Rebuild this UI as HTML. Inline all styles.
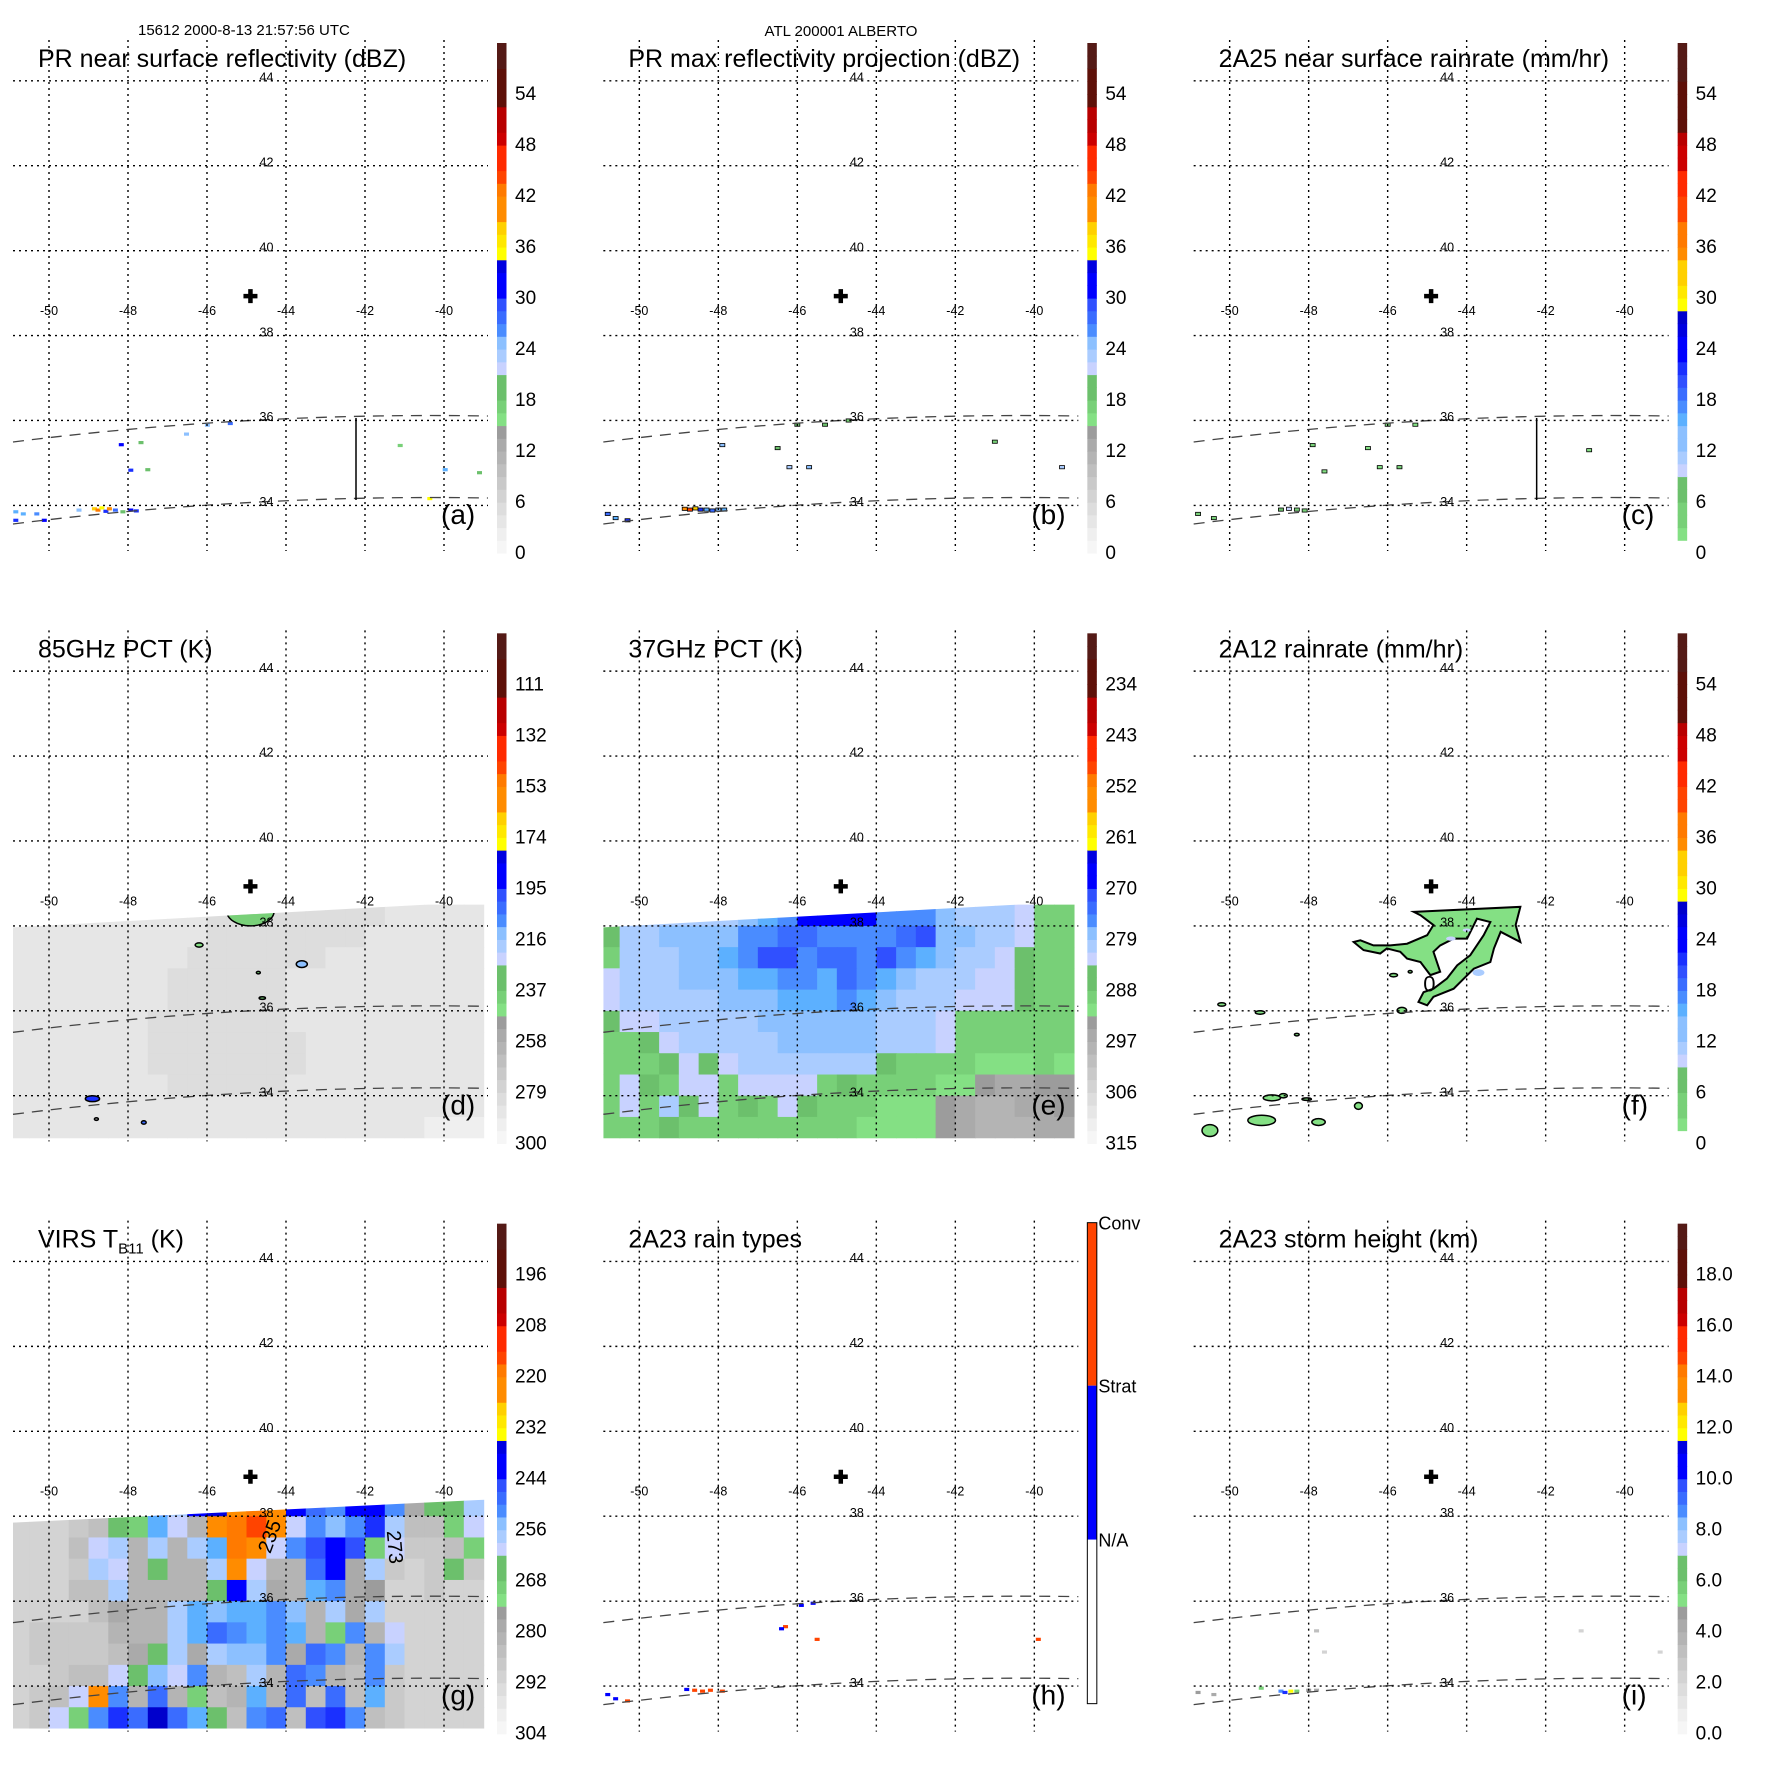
<!DOCTYPE html>
<html><head><meta charset="utf-8"><title>TRMM ALBERTO</title>
<style>html,body{margin:0;padding:0;background:#fff}svg{display:block}text{font-family:"Liberation Sans",Arial,sans-serif;fill:#000}</style>
</head><body>
<svg id="fig" xmlns="http://www.w3.org/2000/svg" width="1771" height="1771" viewBox="0 0 1771 1771">
<rect x="0" y="0" width="1771" height="1771" fill="#fff"/>
<text x="138" y="35" font-size="15">15612 2000-8-13 21:57:56 UTC</text>
<text x="841" y="36" font-size="15" text-anchor="middle">ATL 200001 ALBERTO</text>
</svg>
<script>
// ---------- data ----------
const gridLons = [-50.75,-50.25,-49.75,-49.25,-48.75,-48.25,-47.75,-47.25,-46.75,-46.25,-45.75,-45.25,-44.75,-44.25,-43.75,-43.25,-42.75,-42.25,-41.75,-41.25,-40.75,-40.25,-39.75,-39.25];
const gridLats = [38.25,37.75,37.25,36.75,36.25,35.75,35.25,34.75,34.25,33.75,33.25];
const gridLonTicks = [-50,-48,-46,-44,-42,-40];
const gridLatTicks = [44,42,40,38,36,34];

const labelsA = [0,6,12,18,24,30,36,42,48,54];
const labelsRain = [0,6,12,18,24,30,36,42,48,54];
const labelsD = [300,279,258,237,216,195,174,153,132,111];
const labelsE = [315,306,297,288,279,270,261,252,243,234];
const labelsG = [304,292,280,268,256,244,232,220,208,196];
const labelsI = ["0.0","2.0","4.0","6.0","8.0","10.0","12.0","14.0","16.0","18.0"];
const labelsH = ["N/A","Strat","Conv"];

const field37 = [
[282,282,282,280,280,280,280,279,276,275,268,267,267,269,274,275,274,279,280,280,282,283,287,288],
[285,282,280,279,279,278,278,275,274,273,273,274,275,274,274,273,272,278,279,280,282,283,288,288],
[288,282,281,280,279,278,277,274,272,271,274,273,273,275,271,274,276,279,280,281,283,286,288,288],
[283,281,280,280,279,278,278,277,276,275,275,276,273,275,277,279,280,281,282,283,284,286,288,288],
[283,282,281,280,280,280,279,279,278,277,276,276,275,277,279,280,281,282,283,284,283,286,288,288],
[285,284,283,282,281,281,280,280,279,279,279,278,278,279,280,281,282,283,287,288,288,288,288,288],
[288,288,285,283,282,281,281,281,280,279,278,278,278,279,280,281,282,284,288,288,288,288,288,289],
[288,289,288,285,283,286,283,282,282,281,280,280,281,282,285,287,288,289,289,290,291,290,289,290],
[288,284,286,288,283,283,287,283,283,283,284,288,286,288,288,289,289,290,290,293,296,296,294,292],
[287,283,288,281,286,283,287,286,288,284,286,288,289,289,290,290,290,292,297,298,298,297,296,293],
[288,287,288,286,288,287,288,288,288,287,288,289,289,290,290,290,291,292,297,298,298,298,297,297]];

const field85 = [
[288,288,288,288,287,287,286,286,285,285,284,283,282,283,283,283,282,282,284,286,287,288,288,288],
[288,288,287,287,286,286,286,285,285,285,284,283,281,281,282,283,283,284,285,286,287,288,288,288],
[288,288,287,286,286,286,285,285,285,284,284,282,281,282,284,284,285,285,286,286,287,288,288,289],
[288,287,287,286,286,285,285,285,284,284,283,281,282,284,285,285,285,286,286,287,287,288,288,289],
[288,287,287,286,286,285,285,285,284,283,282,282,283,284,285,285,286,286,287,287,288,288,289,289],
[288,288,287,286,285,285,285,284,284,283,283,283,283,284,285,285,286,286,287,287,288,288,289,289],
[289,288,287,286,285,285,285,284,283,283,282,282,283,283,284,285,286,286,287,288,288,289,289,289],
[289,288,287,286,285,285,285,284,283,283,282,282,283,283,284,285,286,287,287,288,288,289,289,289],
[289,288,287,286,285,285,286,285,284,284,283,283,284,284,285,286,286,287,288,288,289,289,289,289],
[288,287,286,285,285,285,286,286,285,285,285,285,285,286,286,287,287,288,288,289,289,289,289,289],
[288,287,286,286,285,286,286,287,287,286,286,286,287,287,287,288,288,288,289,289,289,290,290,290]];

const fieldVirs = [
[290,290,290,290,290,288,262,250,258,241,238,224,218,222,242,248,250,243,243,250,278,266,266,260],
[290,290,290,289,284,264,268,252,262,281,222,218,216,222,262,250,256,250,244,258,284,284,270,262],
[290,290,290,284,262,258,282,260,282,258,252,218,222,262,250,246,242,246,270,262,287,288,286,270],
[290,290,290,288,258,262,283,266,283,282,258,224,262,282,282,248,240,278,260,288,290,288,266,288],
[290,290,290,286,285,260,283,283,282,283,266,240,258,280,282,252,250,280,274,290,290,288,290,290],
[290,290,290,290,284,280,282,282,258,254,256,252,254,250,256,282,258,280,258,290,290,290,290,291],
[290,289,288,288,288,282,282,282,260,252,248,250,254,250,252,282,270,250,282,262,290,290,290,290],
[290,288,288,288,288,286,280,266,258,280,258,256,256,250,280,248,250,282,250,258,290,290,290,290],
[290,290,288,286,284,262,266,256,262,250,282,284,258,282,248,250,282,284,250,288,290,290,290,290],
[290,288,286,262,225,250,283,248,282,268,284,282,252,282,248,284,248,284,252,288,290,290,290,290],
[290,288,262,270,250,244,248,234,248,252,266,284,250,248,286,246,244,250,284,288,290,290,290,290]];

// specks: [lon, lat, value]
const specksA = [[-48.85,33.92,38],[-48.76,33.89,42],[-48.66,33.94,36],[-48.56,33.86,30],[-48.47,33.92,40],[-48.32,33.89,28],[-48.13,33.85,20],[-47.93,33.89,31],[-47.79,33.87,30],[-50.84,33.85,26],[-50.65,33.80,25],[-50.31,33.80,27],[-50.12,33.65,31],[-50.84,33.65,30],[-49.24,33.89,24],[-48.17,35.43,31],[-47.93,34.83,30],[-47.50,34.84,20],[-47.67,35.48,19],[-46.52,35.68,24],[-45.99,35.89,24],[-45.41,35.93,28],[-41.11,35.41,18],[-39.10,34.77,19],[-39.97,34.84,25],[-40.36,34.16,36]];
const specksB = [[-48.85,33.92,40],[-48.72,33.9,44],[-48.58,33.93,38],[-48.45,33.9,30],[-48.3,33.9,26],[-48.15,33.88,28],[-48.0,33.9,24],[-47.85,33.9,26],[-50.8,33.8,28],[-50.6,33.7,25],[-50.3,33.65,30],[-47.9,35.42,24],[-46.5,35.35,20],[-46.2,34.9,22],[-45.7,34.9,24],[-45.3,35.9,20],[-44.7,36.0,18],[-46.0,35.9,20],[-39.3,34.9,22],[-41.0,35.5,18]];
const specksC = [[-48.7,33.9,8],[-48.5,33.92,10],[-48.3,33.9,6],[-48.1,33.88,4],[-50.8,33.8,5],[-50.4,33.7,4],[-47.9,35.42,4],[-46.5,35.35,3],[-46.2,34.9,3],[-45.7,34.9,4],[-45.3,35.9,3],[-46.0,35.9,3],[-40.9,35.3,3],[-47.6,34.8,3]];
const specksH = [[-48.6,33.9,2],[-48.4,33.88,2],[-48.2,33.9,2],[-47.9,33.88,2],[-48.8,33.92,1],[-50.8,33.8,1],[-50.6,33.7,1],[-50.3,33.65,2],[-46.3,35.4,2],[-46.4,35.35,1],[-45.5,35.1,2],[-45.6,35.95,1],[-45.9,35.9,1],[-39.9,35.1,2]];
const specksI = [[-48.7,33.88,9],[-48.6,33.85,10],[-48.45,33.88,12],[-48.3,33.88,6],[-48.0,33.9,5],[-50.8,33.85,5],[-50.4,33.8,4],[-47.8,33.9,4],[-47.8,35.3,3],[-47.6,34.8,2],[-41.1,35.3,2],[-39.1,34.8,2],[-49.2,33.95,6]];

// blobs: [lon, lat, value, rxDeg, ryDeg]
const blobsD = [[-44.9,38.35,235,0.6,0.35],[-44.9,38.42,215,0.25,0.1],[-46.2,37.55,245,0.1,0.05],[-43.6,37.1,215,0.14,0.08],[-44.7,36.9,240,0.05,0.03],[-44.6,36.3,240,0.08,0.03],[-48.9,33.93,195,0.18,0.07],[-48.8,33.45,250,0.05,0.03],[-47.6,33.37,200,0.06,0.04]];
const blobsF = [[-50.2,36.15,3,0.1,0.04],[-49.23,35.96,3,0.12,0.04],[-48.3,35.44,3,0.06,0.03],[-45.64,36.01,3,0.12,0.07],[-45.85,36.84,3,0.1,0.04],[-45.43,36.92,3,0.05,0.03],[-48.93,33.95,3,0.22,0.07],[-48.64,34.0,3,0.1,0.05],[-48.05,33.92,3,0.12,0.03],[-46.74,33.76,3,0.1,0.08],[-49.19,33.42,3,0.35,0.12],[-47.75,33.38,3,0.17,0.08],[-50.5,33.18,3,0.2,0.14]];
const shapeF = [[-45.34,38.33],[-42.64,38.45],[-42.76,38.02],[-42.64,37.62],[-43.14,37.86],[-43.31,37.47],[-43.40,37.15],[-43.82,36.99],[-44.07,36.76],[-44.33,36.52],[-44.84,36.33],[-45.00,36.13],[-45.22,36.21],[-45.09,36.44],[-44.84,36.52],[-44.50,36.76],[-44.24,37.07],[-43.91,37.31],[-43.57,37.78],[-43.40,38.09],[-43.74,38.17],[-43.99,37.70],[-44.33,37.70],[-44.67,37.54],[-44.84,37.39],[-44.67,36.92],[-44.92,36.84],[-45.17,37.15],[-45.51,37.23],[-45.68,37.39],[-46.02,37.47],[-46.19,37.35],[-46.61,37.43],[-46.86,37.62],[-46.69,37.66],[-46.36,37.54],[-45.93,37.54],[-45.51,37.58],[-45.00,37.78],[-44.84,38.02],[-45.17,38.25]];
const spotsF = [[-44.4,37.7,10,0.12,0.05],[-43.7,36.9,11,0.15,0.08],[-44.0,37.9,9,0.1,0.04]];
const stormCenter = [-44.9,38.93];

// ---------- helpers ----------
const NS='http://www.w3.org/2000/svg';
const svg=document.getElementById('fig');
const P=590.33;
function lonX(l){return 49+39.5*(l+50);}
function latY(a){return 80.8+(44-a)*42.46;}
function idxY(i){return 553-8.5*i;}
function mk(tag,attrs,parent){const e=document.createElementNS(NS,tag);for(const k in attrs)e.setAttribute(k,attrs[k]);parent.appendChild(e);return e;}
const stopsA=[[0,'#f6f6f6'],[1.5,'#efefef'],[3,'#e6e6e6'],[4.5,'#dddddd'],[6,'#d3d3d3'],[7.5,'#c9c9c9'],[9,'#bfbfbf'],[10.5,'#b4b4b4'],[12,'#aaaaaa'],[13.5,'#9c9c9c'],[15.4,'#84e084'],[17,'#78d078'],[18.7,'#6cc06c'],[20.4,'#c8d2ff'],[21.9,'#aaccff'],[23.4,'#8cc0ff'],[24.9,'#5cb0ff'],[26.2,'#4a8cff'],[27.4,'#3a6cff'],[28.6,'#3050ff'],[29.8,'#1a30ff'],[30.5,'#0000ff'],[32.8,'#0000e0'],[34,'#0000cc'],[35.2,'#ffff00'],[36.6,'#ffe800'],[38,'#ffd000'],[39.4,'#ff8c00'],[41.5,'#ff7a00'],[43.6,'#ff4400'],[45.7,'#ff2a00'],[47.8,'#cc0000'],[50,'#b80000'],[52.3,'#5e1008'],[56.5,'#541a16']];
function colA(i){let c=stopsA[0][1];for(const s of stopsA){if(i>=s[0])c=s[1];}return c;}
function rainToA(r){if(r<1.5)return 0;if(r<8.5)return 15.4+(r-1.5)/7*5;if(r<28.5)return 20.4+(r-8.5)/20*14.8;return 35.2+(r-28.5)/31.5*24.8;}
function colRain(r){return r<1.5?'#ffffff':colA(rainToA(r));}

const panels=[
 {id:'a',col:0,row:0,title:'PR near surface reflectivity (dBZ)',labels:labelsA,toIdx:v=>v,pal:'A',specks:specksA,vline:true},
 {id:'b',col:1,row:0,title:'PR max reflectivity projection (dBZ)',labels:labelsA,toIdx:v=>v,pal:'A',specks:specksB,outline:true},
 {id:'c',col:2,row:0,title:'2A25 near surface rainrate (mm/hr)',labels:labelsRain,toIdx:v=>v,pal:'R',specks:specksC,outline:true,vline:true},
 {id:'d',col:0,row:1,title:'85GHz PCT (K)',labels:labelsD,toIdx:v=>(300-v)/3.5,pal:'A',field:field85,blobs:blobsD,clipBlobs:true},
 {id:'e',col:1,row:1,title:'37GHz PCT (K)',labels:labelsE,toIdx:v=>(315-v)/1.5,pal:'A',field:field37},
 {id:'f',col:2,row:1,title:'2A12 rainrate (mm/hr)',labels:labelsRain,toIdx:v=>v,pal:'R',shape:shapeF,blobs:blobsF,spots:spotsF},
 {id:'g',col:0,row:2,title:'VIRS',labels:labelsG,toIdx:v=>(304-v)/2,pal:'A',field:fieldVirs,virs:true},
 {id:'h',col:1,row:2,title:'2A23 rain types',labels:labelsH,pal:'H',specks:specksH},
 {id:'i',col:2,row:2,title:'2A23 storm height (km)',labels:labelsI,toIdx:v=>v*3,pal:'A',specks:specksI}
];

function colorFor(p,v){
  if(p.pal==='H') return v===2?'#ff4400':'#0000ff';
  if(p.pal==='R') return colRain(p.toIdx(v));
  return colA(p.toIdx(v));
}

panels.forEach(p=>{
  const g=mk('g',{transform:'translate('+(p.col*P).toFixed(2)+','+(p.row*P).toFixed(2)+')'},svg);
  
  
  const cp=mk('clipPath',{id:'clip-'+p.id},g);
  const topL=p.virs?342:337, topR=p.virs?319:311;
  mk('polygon',{points:'13,'+topL+' 486,'+topR+' 486,548 13,548'},cp);
  const fg=mk('g',{'clip-path':'url(#clip-'+p.id+')'},g);
  
  
  if(p.field){
    p.field.forEach((row,ri)=>{row.forEach((v,ci)=>{
      const x0=lonX(gridLons[ci]-0.25),x1=lonX(gridLons[ci]+0.25),y0=latY(gridLats[ri]+0.25),y1=latY(gridLats[ri]-0.25);
      const r=mk('rect',{x:x0.toFixed(1),y:y0.toFixed(1),width:(x1-x0+0.6).toFixed(1),height:(y1-y0+0.6).toFixed(1),fill:colorFor(p,v)},fg);
      
      
    });});
  }
  if(p.shape){
    const pts=p.shape.map(q=>lonX(q[0]).toFixed(1)+','+latY(q[1]).toFixed(1)).join(' ');
    const s=mk('polygon',{points:pts,fill:colRain(3),stroke:'#000','stroke-width':2},g);
    
    
  }
  if(p.spots){p.spots.forEach(b=>{
    const e=mk('ellipse',{cx:lonX(b[0]),cy:latY(b[1]),rx:b[3]*39.5,ry:b[4]*42.46,fill:colorFor(p,b[2])},g);
    
    
  });}
  if(p.blobs){p.blobs.forEach(b=>{
    const e=mk('ellipse',{cx:lonX(b[0]),cy:latY(b[1]),rx:b[3]*39.5,ry:b[4]*42.46,fill:colorFor(p,b[2]),stroke:'#000','stroke-width':1.5},p.clipBlobs?fg:g);
    
    
  });}
  if(p.specks){p.specks.forEach(s=>{
    const r=mk('rect',{x:(lonX(s[0])-2.5).toFixed(1),y:(latY(s[1])-1.6).toFixed(1),width:5,height:3.2,fill:colorFor(p,s[2])},g);
    if(p.outline){r.setAttribute('stroke','#000');r.setAttribute('stroke-width','0.8');}
    
    
  });}
  const s1=mk('path',{d:'M13,442 Q250,412 488,416',fill:'none',stroke:'#444','stroke-width':1.3,'stroke-dasharray':'11 8'},g);
  
  
  const s2=mk('path',{d:'M13,524 Q250,494 488,498',fill:'none',stroke:'#444','stroke-width':1.3,'stroke-dasharray':'11 8'},g);
  
  
  if(p.vline){
    const v=mk('line',{x1:356,y1:418,x2:356,y2:500,stroke:'#000','stroke-width':1.5},g);
    
    
  }
  gridLatTicks.forEach(l=>{
    const y=latY(l);
    const ln=mk('line',{x1:13,y1:y,x2:488,y2:y,stroke:'#000','stroke-width':1.4,'stroke-dasharray':'2 4'},g);
    
    
    const t=mk('text',{x:266.5,y:(y+0.7).toFixed(1),'font-size':12.5,'text-anchor':'middle'},g);
    t.textContent=String(l);
    
    
  });
  gridLonTicks.forEach(l=>{
    const x=lonX(l);
    const ln=mk('line',{x1:x,y1:40,x2:x,y2:551,stroke:'#000','stroke-width':1.4,'stroke-dasharray':'2 4'},g);
    
    
    const t=mk('text',{x:x,y:315,'font-size':12.5,'text-anchor':'middle'},g);
    t.textContent=String(l);
    
    
  });
  const cx=lonX(stormCenter[0]),cy=latY(stormCenter[1]);
  const cr=mk('path',{d:'M'+(cx-7)+','+cy+'H'+(cx+7)+'M'+cx+','+(cy-7)+'V'+(cy+7),stroke:'#000','stroke-width':4.5},g);
  
  
  const tt=mk('text',{x:38,y:67,'font-size':25},g);
  
  
  if(p.virs){
    const a=mk('tspan',{},tt);a.textContent='VIRS T';
    const b=mk('tspan',{'font-size':15,dy:6},tt);b.textContent='B11';
    const c=mk('tspan',{dy:-6},tt);c.textContent=' (K)';
  } else tt.textContent=p.title;
  const pl=mk('text',{x:441,y:524,'font-size':28},g);
  pl.textContent='('+p.id+')';
  
  
  if(p.id==='f'){
    const z=mk('text',{x:lonX(-45.1),y:latY(36.45),'font-size':22},g);
    z.textContent='0';
    
    
  }
  if(p.virs){
    const z1=mk('text',{x:0,y:0,'font-size':20,transform:'translate('+lonX(-44.4)+','+latY(37.1)+') rotate(-70)'},g);
    z1.textContent='235';
    
    
    const z2=mk('text',{x:0,y:0,'font-size':20,transform:'translate('+lonX(-41.45)+','+latY(37.65)+') rotate(85)'},g);
    z2.textContent='273';
    
    
  }
  const cb=mk('g',{},g);
  
  
  if(p.pal==='H'){
    const segs=[[42,205,'#ff4400'],[205,359,'#0000ff'],[359,523,'#ffffff']];
    segs.forEach(s=>{
      const r=mk('rect',{x:497,y:s[0],width:9.5,height:s[1]-s[0],fill:s[2]},cb);
      
      
    });
    const o=mk('rect',{x:497,y:42,width:9.5,height:481,fill:'none',stroke:'#000','stroke-width':1},cb);
    
    
    const ys=[359,205,42];
    labelsH.forEach((s,k)=>{
      const t=mk('text',{x:508,y:ys[k]+7,'font-size':18},cb);
      t.textContent=s;
      
      
    });
  } else {
    for(let i=0;i<60;i+=1.5){
      const c=p.pal==='R'?colRain(i+0.75):colA(i+0.75);
      const r=mk('rect',{x:497,y:idxY(i+1.5).toFixed(1),width:9.5,height:13.3,fill:c},cb);
      
      
    }
    p.labels.forEach((s,k)=>{
      const y=idxY(k*6);
      const t=mk('text',{x:515,y:(y+6).toFixed(1),'font-size':19},cb);
      t.textContent=String(s);
      
      
    });
  }
});
</script>
</body></html>
